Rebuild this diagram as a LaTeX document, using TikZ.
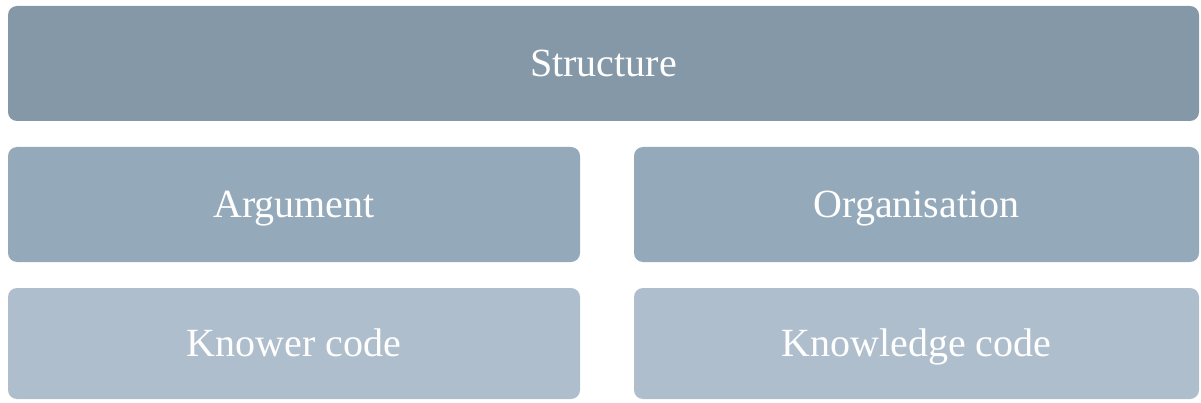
\documentclass[tikz,border=0pt]{standalone}
\usepackage{fontspec}
\setmainfont{Liberation Serif}
\definecolor{topc}{HTML}{8598A7}
\definecolor{midc}{HTML}{94A9BA}
\definecolor{lowc}{HTML}{AFBECC}
\begin{document}
\begin{tikzpicture}[x=1pt,y=-1pt,
  boxa/.style={rounded corners=9pt, inner sep=0pt, text=white, text height=26.5pt, text depth=0pt, font=\fontsize{40}{46}\selectfont}]
\useasboundingbox (0,0) rectangle (1201,403);
\node[boxa, fill=topc, minimum width=1191pt, minimum height=115pt] (s) at (603.5,63.5) {Structure};
\node[boxa, fill=midc, minimum width=572pt, minimum height=115pt] (a) at (294,204.5) {Argument};
\node[boxa, fill=midc, minimum width=565pt, minimum height=115pt] (o) at (916.5,204.5) {Organisation};
\node[boxa, fill=lowc, minimum width=572pt, minimum height=111pt] (k) at (294,343.5) {Knower code};
\node[boxa, fill=lowc, minimum width=565pt, minimum height=111pt] (kc) at (916.5,343.5) {Knowledge code};
\end{tikzpicture}
\end{document}
